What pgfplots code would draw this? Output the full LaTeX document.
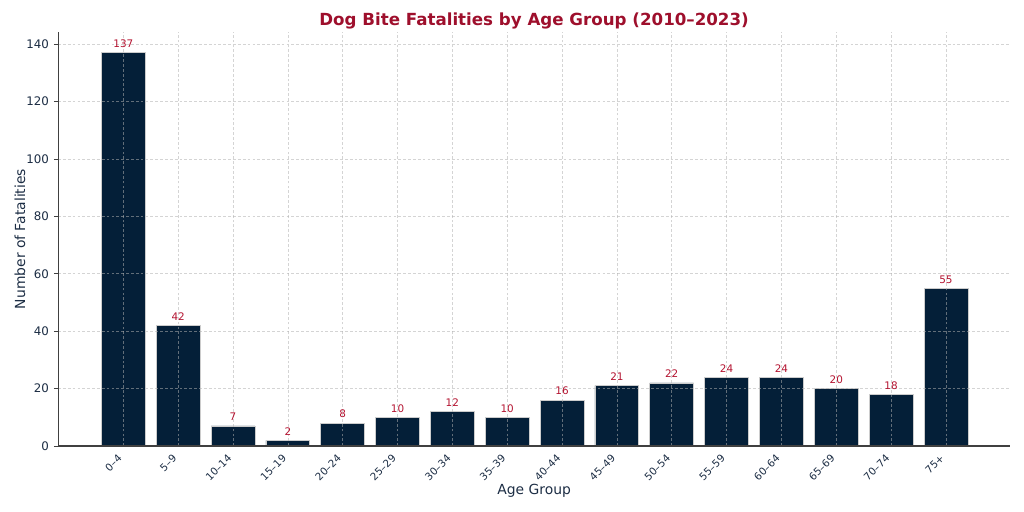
\documentclass[border=0pt]{standalone}
\usepackage{fontspec}
\setmainfont{DejaVu Sans}
\usepackage{pgfplots}
\pgfplotsset{compat=1.18}

\definecolor{barnavy}{HTML}{041F38}
\definecolor{crimson}{HTML}{9E0F2C}
\definecolor{valred}{HTML}{B3122F}
\definecolor{labnavy}{HTML}{1C2D44}
\definecolor{gridgray}{HTML}{B0B0B0}

\begin{document}
\begin{tikzpicture}
\begin{axis}[
    at={(0,0)}, anchor=south west,
    scale only axis,
    width=685.4pt, height=298pt,
    xmin=-1.19, xmax=16.17,
    ymin=0, ymax=144.2,
    axis x line*=bottom,
    axis y line*=left,
    axis line style={draw=black!75, line width=0.8pt},
    axis on top,
    xtick={0,...,15},
    xticklabels={0–4,5–9,10–14,15–19,20–24,25–29,30–34,35–39,40–44,45–49,50–54,55–59,60–64,65–69,70–74,75+},
    x tick label style={xshift=-4.5pt, yshift=-1pt, rotate=45, anchor=north east, font=\fontsize{7.4}{9}\selectfont, text=labnavy, inner sep=1pt},
    ytick={0,20,...,140},
    y tick label style={font=\fontsize{8.5}{10}\selectfont, text=labnavy},
    /pgf/number format/assume math mode=true,
    major x tick style={draw=none},
    major y tick style={draw=black!75, line width=0.6pt},
    tick align=outside,
    major tick length=3pt,
    grid=major,
    major grid style={dash pattern=on 2pt off 1.5pt, draw=gridgray, draw opacity=0.55, line width=0.5pt},
    xlabel={Age Group},
    ylabel={Number of Fatalities},
    xlabel style={at={([yshift=-32.4pt]axis description cs:0.5,0)}, anchor=center, font=\fontsize{10}{12}\selectfont, text=labnavy},
    ylabel style={at={([xshift=-27.4pt]axis description cs:0,0.5)}, anchor=center, font=\fontsize{10}{12}\selectfont, text=labnavy},
    title={\textbf{Dog Bite Fatalities by Age Group (2010–2023)}},
    title style={at={([yshift=2.1pt]axis description cs:0.5,1)}, anchor=center, font=\fontsize{12}{14}\selectfont, text=crimson},
    nodes near coords,
    every node near coord/.append style={font=\fontsize{7.5}{9}\selectfont, text=valred, yshift=0pt},
]
\addplot[ybar, bar width=0.8, fill=barnavy, draw=black!20, line width=0.5pt] coordinates {
    (0,137) (1,42) (2,7) (3,2) (4,8) (5,10) (6,12) (7,10)
    (8,16) (9,21) (10,22) (11,24) (12,24) (13,20) (14,18) (15,55)
};
\end{axis}
\pgfresetboundingbox
\useasboundingbox (-41.8pt,-47.5pt) rectangle (695.4pt,321.1pt);
\end{tikzpicture}
\end{document}
